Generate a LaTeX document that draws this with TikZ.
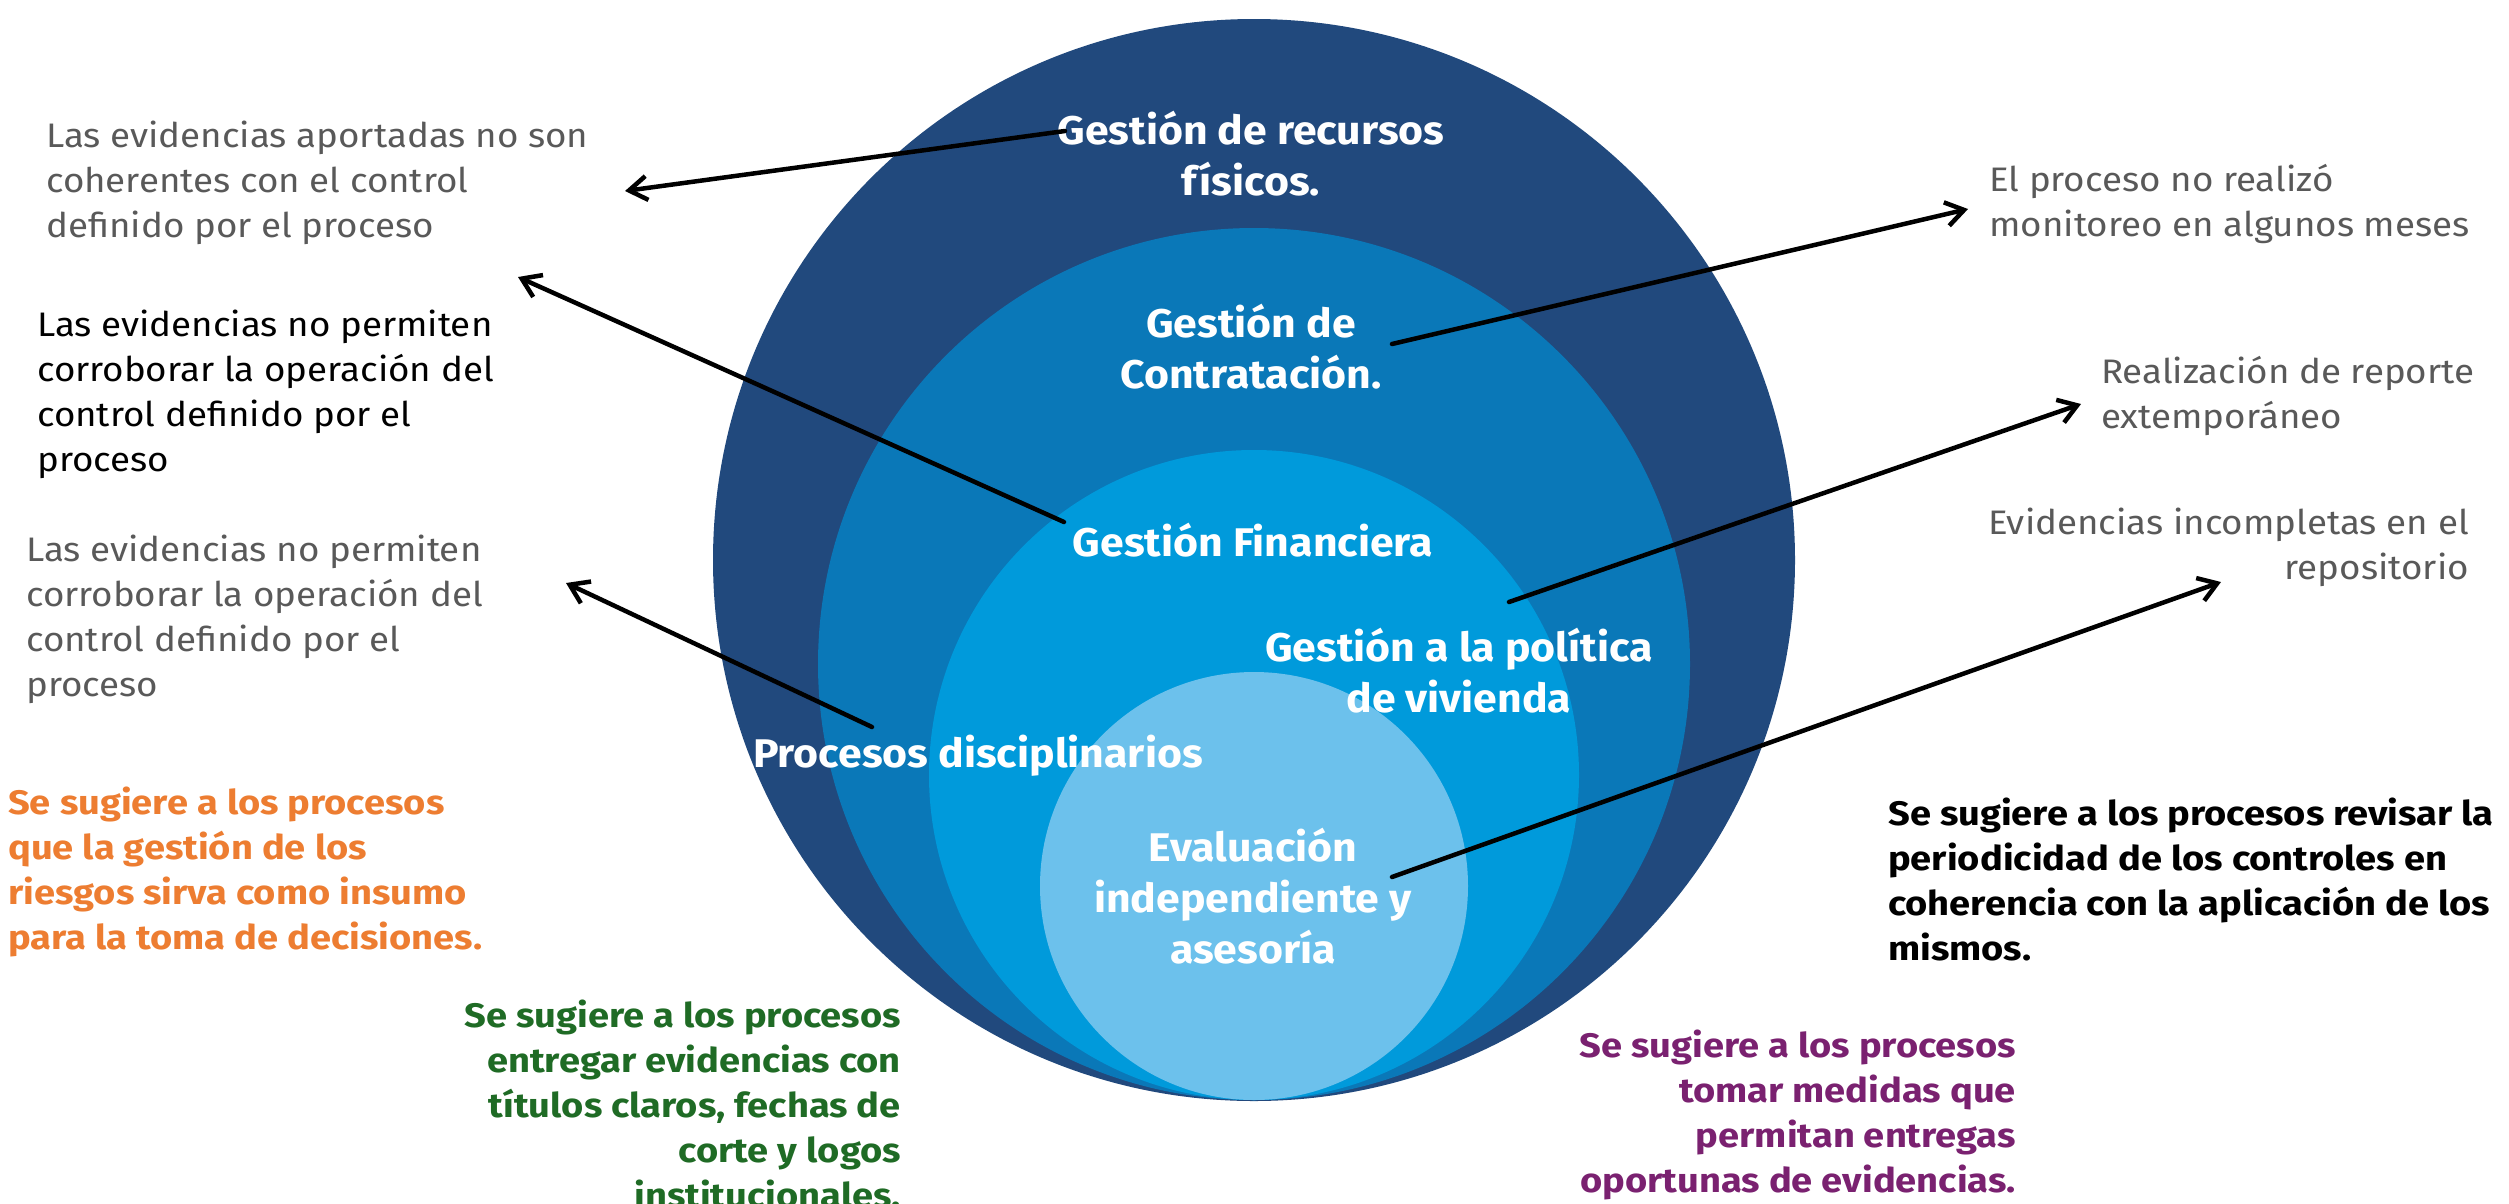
\documentclass[tikz,border=0pt]{standalone}
\usepackage{fontspec}
\setmainfont{Fira Sans}
\newfontfamily\notefont{Fira Sans}[FakeStretch=1.08]
\newfontfamily\suggfont{Fira Sans}[FakeStretch=1.12]
\newfontfamily\lblfont{Fira Sans}[FakeStretch=1.07]
\usetikzlibrary{arrows.meta}
\definecolor{cA}{HTML}{21497D}
\definecolor{cB}{HTML}{0A78B8}
\definecolor{cC}{HTML}{009ADB}
\definecolor{cD}{HTML}{6CC1EC}
\definecolor{txgray}{HTML}{595959}
\definecolor{txorange}{HTML}{ED7D31}
\definecolor{txgreen}{HTML}{1F6B25}
\definecolor{txpurple}{HTML}{7A2170}
\begin{document}
\begin{tikzpicture}[x=1pt,y=-1pt,
  lbl/.style={inner sep=0pt, text=white, font=\lblfont\fontsize{40}{51}\selectfont\bfseries, align=center},
  note/.style={inner sep=0pt, text=txgray, font=\notefont\fontsize{34}{45}\selectfont},
  sugg/.style={inner sep=0pt, font=\suggfont\fontsize{34}{45}\selectfont\bfseries},
  arr/.style={line width=4.5pt, -{Straight Barb[length=18pt,width=24pt]}, line cap=round, line join=round}]
\useasboundingbox (0,0) rectangle (2509,1203);
\fill[white] (0,0) rectangle (2509,1203);
% concentric circles
\fill[cA] (1254,560) circle[radius=541pt];
\fill[cB] (1254,664) circle[radius=436pt];
\fill[cC] (1254,775) circle[radius=325pt];
\fill[cD] (1254,886) circle[radius=214pt];
% circle labels
\node[lbl] (rec) at (1251,154) {Gestión de recursos\\físicos.};
\node[lbl] (con) at (1251,347) {Gestión de\\Contratación.};
\node[lbl] (fin) at (1253,540) {Gestión Financiera};
\node[lbl] (viv) at (1459,671) {Gestión a la política\\de vivienda};
\node[lbl] (pro) at (978,756) {Procesos disciplinarios};
\node[lbl] (eva) at (1253,896) {Evaluación\\independiente y\\asesoría};
% findings
\node[note, anchor=west, align=left] (n1) at (46,183) {Las evidencias aportadas no son\\coherentes con el control\\definido por el proceso};
\node[note, anchor=west, align=left, text=black] (n2) at (37,394) {Las evidencias no permiten\\corroborar la operación del\\control definido por el\\proceso};
\node[note, anchor=west, align=left] (n3) at (26,619) {Las evidencias no permiten\\corroborar la operación del\\control definido por el\\proceso};
\node[note, anchor=west, align=left] (n4) at (1989,204) {El proceso no realizó\\monitoreo en algunos meses};
\node[note, anchor=west, align=left] (n5) at (2101,396) {Realización de reporte\\extemporáneo};
\node[note, anchor=east, align=right] (n6) at (2469,547) {Evidencias incompletas en el\\repositorio};
% suggestions
\node[sugg, anchor=west, align=left, text=txorange] (s1) at (8,872) {Se sugiere a los procesos\\que la gestión de los\\riesgos sirva como insumo\\para la toma de decisiones.};
\node[sugg, anchor=east, align=right, text=txgreen] (s2) at (901,1104) {Se sugiere a los procesos\\entregar evidencias con\\títulos claros, fechas de\\corte y logos\\institucionales.};
\node[sugg, anchor=east, align=right, text=txpurple] (s3) at (2016,1115) {Se sugiere a los procesos\\tomar medidas que\\permitan entregas\\oportunas de evidencias.};
\node[sugg, anchor=west, align=left, text=black] (s4) at (1888,879) {Se sugiere a los procesos revisar la\\periodicidad de los controles en\\coherencia con la aplicación de los\\mismos.};
% connector ends
\coordinate (a1s) at (1065,131); \coordinate (a1e) at (625,191);
\coordinate (a2s) at (1064,522); \coordinate (a2e) at (518,277);
\coordinate (a3s) at (872,727);  \coordinate (a3e) at (566,583);
\coordinate (a4s) at (1392,344); \coordinate (a4e) at (1968,209);
\coordinate (a5s) at (1509,602); \coordinate (a5e) at (2081,404);
\coordinate (a6s) at (1392,877); \coordinate (a6e) at (2221,582);
\draw[arr] (a1s) -- (a1e);
\draw[arr] (a2s) -- (a2e);
\draw[arr] (a3s) -- (a3e);
\draw[arr] (a4s) -- (a4e);
\draw[arr] (a5s) -- (a5e);
\draw[arr] (a6s) -- (a6e);
\end{tikzpicture}
\end{document}
